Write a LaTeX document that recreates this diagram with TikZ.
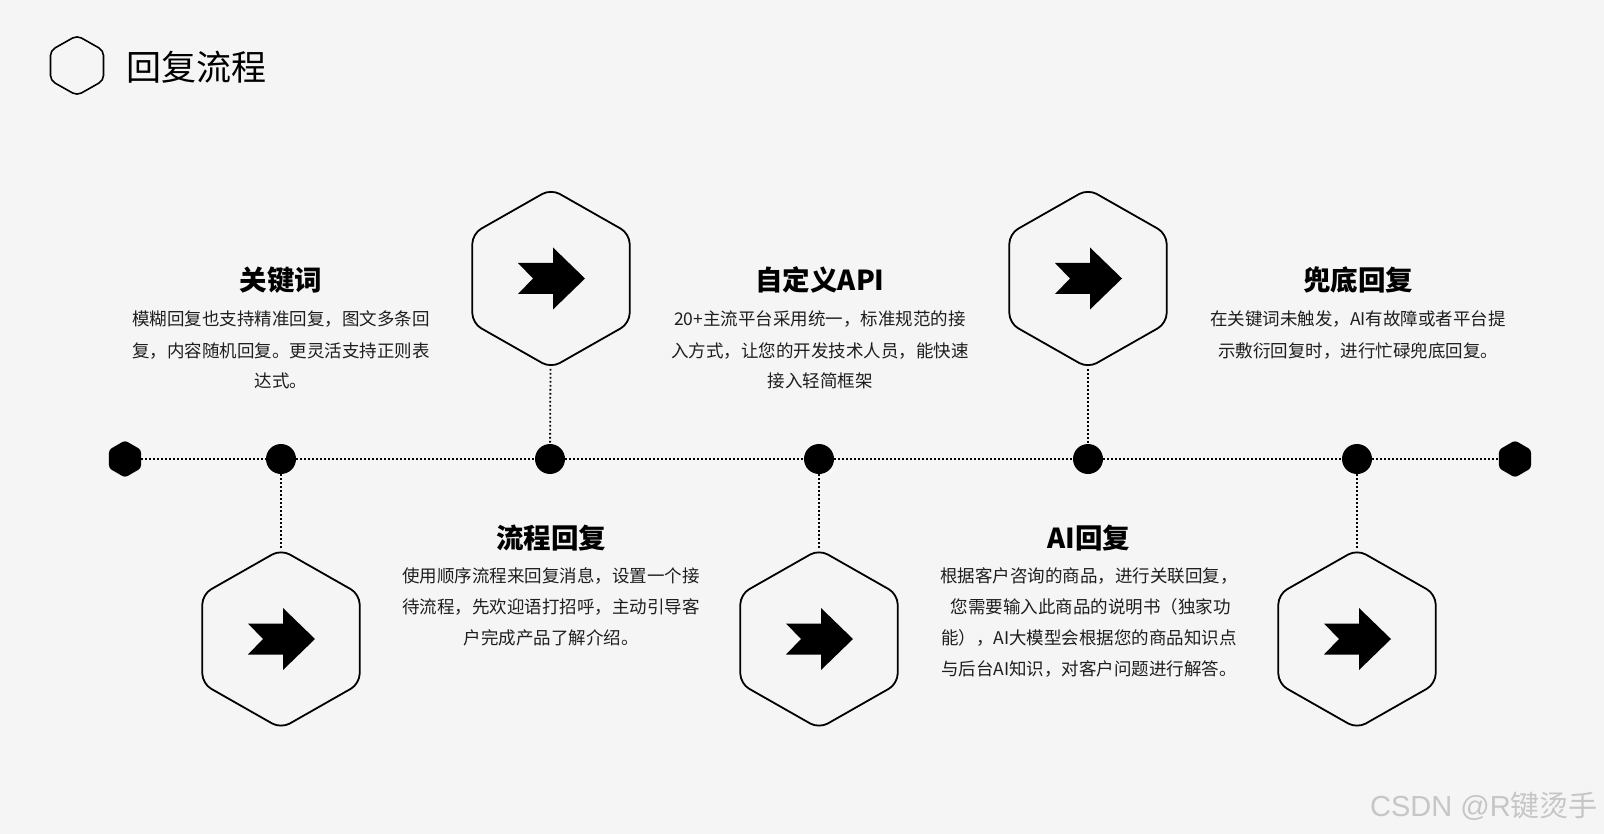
\documentclass[tikz,border=0pt]{standalone}
\usepackage{fontspec}
\setmainfont{Noto Sans CJK SC}
\newfontfamily\latwm{Liberation Sans}
\usetikzlibrary{shapes.geometric}
\definecolor{bg}{HTML}{F5F5F5}
\definecolor{txt}{HTML}{1E1E1E}
\definecolor{wmc}{HTML}{C6C6C6}
\tikzset{
  bighex/.style={regular polygon, regular polygon sides=6, shape border rotate=90, minimum size=179pt, inner sep=0pt, draw=black, line width=1.8pt, rounded corners=10pt, xscale=1.015, transform shape},
  endhex/.style={regular polygon, regular polygon sides=6, shape border rotate=90, minimum size=37pt, inner sep=0pt, fill=black, rounded corners=3pt},
  titlehex/.style={regular polygon, regular polygon sides=6, shape border rotate=90, minimum size=60pt, inner sep=0pt, draw=black, line width=1.6pt, rounded corners=5pt, xscale=1.02, transform shape},
  tdot/.style={circle, fill=black, minimum size=30pt, inner sep=0pt},
  dotline/.style={line width=1.8pt, dash pattern=on 1.8pt off 2.2pt, draw=black},
  headtxt/.style={anchor=base, inner sep=0pt, font=\fontsize{27.5}{30}\selectfont\bfseries, text=black},
  bodytxt/.style={anchor=base, inner sep=0pt, font=\fontsize{17.5}{30}\selectfont, text=txt},
  arrowicon/.pic={\fill[black] (-33,-15.5) -- (2,-15.5) -- (2,-31) -- (34,0) -- (2,31) -- (2,15.5) -- (-33,15.5) -- (-18,0) -- cycle;}
}
\begin{document}
\begin{tikzpicture}[x=1pt,y=-1pt]
\fill[bg] (0,0) rectangle (1604,834);
\useasboundingbox (0,0) rectangle (1604,834);

% title
\node[titlehex] (th) at (77,65.5) {};
\node[anchor=base west, inner sep=0pt, font=\fontsize{35}{40}\selectfont] (title) at (126,80.5) {回复流程};

% timeline
\node[endhex] (e1) at (125,459) {};
\node[tdot] (c1) at (281,459) {};
\node[tdot] (c2) at (550,459) {};
\node[tdot] (c3) at (819,459) {};
\node[tdot] (c4) at (1088,459) {};
\node[tdot] (c5) at (1357,459) {};
\node[endhex] (e2) at (1515,459) {};
\draw[dotline] (e1) -- (c1) -- (c2) -- (c3) -- (c4) -- (c5) -- (e2);

% hexagons
\node[bighex] (h1) at (281,639) {};
\node[bighex] (h2) at (551,278.5) {};
\node[bighex] (h3) at (819,639) {};
\node[bighex] (h4) at (1088,278.5) {};
\node[bighex] (h5) at (1357,639) {};
\draw[dotline] (c1) -- (h1);
\draw[dotline] (h2) -- (c2);
\draw[dotline] (c3) -- (h3);
\draw[dotline] (h4) -- (c4);
\draw[dotline] (c5) -- (h5);
\pic at (h1) {arrowicon};
\pic at (h2) {arrowicon};
\pic at (h3) {arrowicon};
\pic at (h4) {arrowicon};
\pic at (h5) {arrowicon};

% block 1
\node[headtxt] (t1) at (281,291) {关键词};
\node[bodytxt] (t1a) at (281,326) {模糊回复也支持精准回复，图文多条回};
\node[bodytxt] (t1b) at (281,357) {复，内容随机回复。更灵活支持正则表};
\node[bodytxt] (t1c) at (281,388) {达式。};

% block 2
\node[headtxt] (t2) at (551,548) {流程回复};
\node[bodytxt] (t2a) at (551,582.6) {使用顺序流程来回复消息，设置一个接};
\node[bodytxt] (t2b) at (551,613.6) {待流程，先欢迎语打招呼，主动引导客};
\node[bodytxt] (t2c) at (551,644.6) {户完成产品了解介绍。};

% block 3
\node[headtxt] (t3) at (820,291) {自定义API};
\node[bodytxt] (t3a) at (820,326) {20+主流平台采用统一，标准规范的接};
\node[bodytxt] (t3b) at (820,357) {入方式，让您的开发技术人员，能快速};
\node[bodytxt] (t3c) at (820,388) {接入轻简框架};

% block 4
\node[headtxt] (t4) at (1089,548) {AI回复};
\node[bodytxt] (t4a) at (1089,582.6) {根据客户咨询的商品，进行关联回复，};
\node[bodytxt] (t4b) at (1089,613.6) {\ 您需要输入此商品的说明书（独家功};
\node[bodytxt] (t4c) at (1089,644.6) {能），AI大模型会根据您的商品知识点};
\node[bodytxt] (t4d) at (1089,675.6) {与后台AI知识，对客户问题进行解答。};

% block 5
\node[headtxt] (t5) at (1358,291) {兜底回复};
\node[bodytxt] (t5a) at (1358,326) {在关键词未触发，AI有故障或者平台提};
\node[bodytxt] (t5b) at (1358,357) {示敷衍回复时，进行忙碌兜底回复。};

% watermark
\node[anchor=base east, inner sep=0pt, font=\fontsize{29}{30}\selectfont, text=wmc] (wm) at (1598,816) {{\latwm CSDN @R}键烫手};
\end{tikzpicture}
\end{document}
